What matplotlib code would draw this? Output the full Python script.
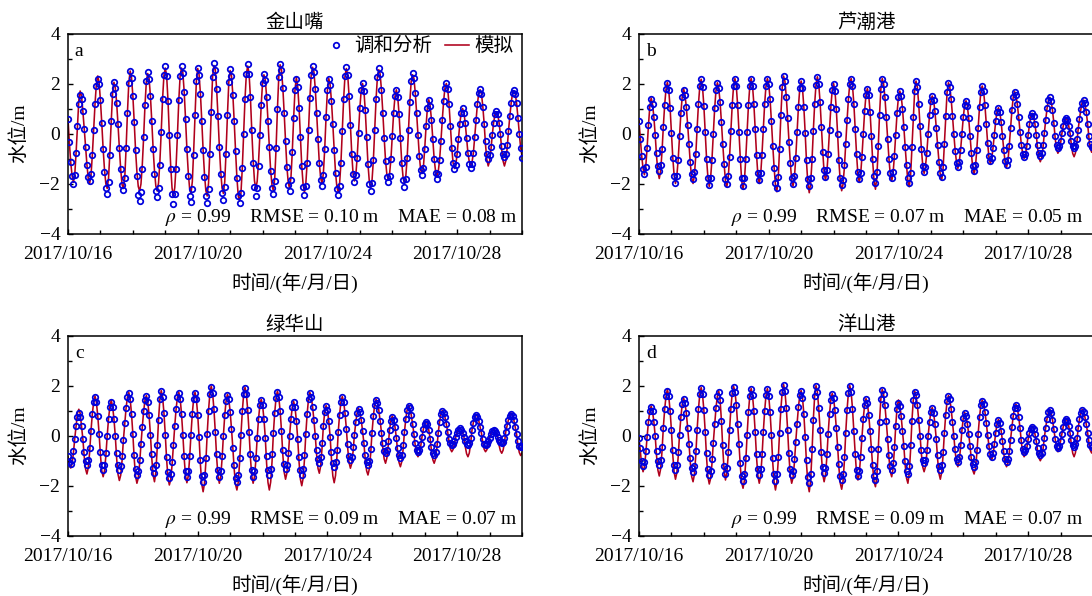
import pandas as pd
import matplotlib
matplotlib.use('Agg')
import matplotlib.pyplot as plt
import matplotlib.dates as mdates
from matplotlib.lines import Line2D

plt.rcParams['font.family'] = ['Liberation Serif', 'Noto Sans CJK SC']
plt.rcParams['mathtext.fontset'] = 'stix'
plt.rcParams['axes.unicode_minus'] = True

# hourly time axis
times = pd.date_range('2017-10-16 00:00', periods=337, freq='h')

# ---------------- 金山嘴 ----------------
a_obs = [0.57,-0.35,-1.15,-1.68,-2.0,-1.65,-0.76,0.31,1.2,1.55,1.38,0.89,0.2,-0.55,-1.24,-1.73,-1.9,-1.61,-0.87,0.15,1.18,1.91,2.2,1.97,
1.33,0.41,-0.61,-1.53,-2.17,-2.4,-1.95,-0.84,0.49,1.6,2.05,1.83,1.23,0.37,-0.57,-1.43,-2.04,-2.25,-1.77,-0.59,0.84,2.03,2.5,2.24,
1.51,0.47,-0.67,-1.71,-2.44,-2.7,-2.34,-1.41,-0.12,1.16,2.09,2.45,2.2,1.5,0.5,-0.6,-1.6,-2.3,-2.55,-2.18,-1.24,0.08,1.39,2.33,
2.7,2.31,1.32,-0.05,-1.43,-2.42,-2.8,-2.41,-1.43,-0.05,1.33,2.32,2.7,2.43,1.66,0.57,-0.62,-1.71,-2.48,-2.75,-2.21,-0.87,0.75,2.09,
2.63,2.36,1.6,0.52,-0.66,-1.74,-2.5,-2.77,-2.21,-0.81,0.87,2.27,2.83,2.56,1.79,0.69,-0.52,-1.62,-2.39,-2.66,-2.14,-0.83,0.74,2.05,
2.57,2.3,1.56,0.49,-0.69,-1.76,-2.5,-2.77,-2.38,-1.38,0.0,1.39,2.38,2.77,2.4,1.45,0.13,-1.18,-2.13,-2.5,-2.16,-1.28,-0.06,1.16,
2.04,2.38,2.14,1.47,0.52,-0.54,-1.49,-2.16,-2.4,-1.88,-0.58,0.98,2.28,2.8,2.54,1.83,0.81,-0.31,-1.33,-2.05,-2.3,-1.85,-0.72,0.63,
1.75,2.2,1.87,1.04,-0.13,-1.29,-2.12,-2.45,-2.09,-1.16,0.13,1.42,2.35,2.71,2.47,1.8,0.83,-0.22,-1.19,-1.86,-2.1,-1.67,-0.61,0.68,
1.74,2.17,1.94,1.29,0.37,-0.65,-1.57,-2.22,-2.45,-2.09,-1.17,0.11,1.39,2.31,2.67,2.35,1.51,0.36,-0.8,-1.63,-1.95,-1.67,-0.96,0.03,
1.02,1.73,2.01,1.71,0.93,-0.15,-1.22,-2.0,-2.3,-1.96,-1.07,0.16,1.38,2.27,2.61,2.38,1.74,0.83,-0.17,-1.08,-1.72,-1.95,-1.69,-1.02,
-0.1,0.83,1.49,1.75,1.48,0.78,-0.19,-1.16,-1.86,-2.13,-1.81,-0.99,0.14,1.28,2.09,2.41,2.21,1.64,0.82,-0.07,-0.89,-1.46,-1.66,-1.36,
-0.61,0.29,1.04,1.34,1.12,0.55,-0.23,-1.02,-1.58,-1.8,-1.61,-1.07,-0.31,0.54,1.3,1.84,2.03,1.79,1.17,0.3,-0.56,-1.18,-1.42,-1.25,
-0.81,-0.2,0.4,0.84,1.01,0.84,0.41,-0.19,-0.79,-1.22,-1.39,-1.23,-0.79,-0.15,0.54,1.18,1.62,1.78,1.59,1.08,0.39,-0.31,-0.81,-1.0,
-0.87,-0.52,-0.05,0.43,0.77,0.9,0.77,0.44,-0.03,-0.49,-0.82,-0.95,-0.82,-0.44,0.1,0.69,1.23,1.61,1.74,1.6,1.21,0.64,0.0,-0.57,
-0.96]
a_sim = [0.57,-0.35,-1.15,-1.68,-1.95,-1.65,-0.76,0.31,1.32,1.7,1.5,0.89,0.2,-0.55,-1.24,-1.81,-2.0,-1.69,-0.87,0.15,1.18,1.99,2.3,2.05,
1.33,0.41,-0.61,-1.44,-2.01,-2.2,-1.79,-0.75,0.49,1.6,2.05,1.83,1.23,0.37,-0.57,-1.43,-2.04,-2.2,-1.77,-0.59,0.84,2.03,2.5,2.24,
1.51,0.47,-0.67,-1.53,-2.12,-2.3,-2.02,-1.23,-0.12,1.16,2.09,2.4,2.2,1.5,0.5,-0.6,-1.49,-2.1,-2.3,-1.98,-1.13,0.08,1.39,2.33,
2.62,2.31,1.32,-0.05,-1.3,-2.18,-2.5,-2.17,-1.3,-0.05,1.33,2.32,2.62,2.43,1.66,0.57,-0.62,-1.55,-2.2,-2.4,-1.93,-0.71,0.75,2.09,
2.6,2.36,1.6,0.52,-0.66,-1.62,-2.28,-2.5,-1.99,-0.69,0.87,2.27,2.72,2.56,1.79,0.69,-0.52,-1.5,-2.18,-2.4,-1.93,-0.71,0.74,2.05,
2.52,2.3,1.56,0.49,-0.69,-1.76,-2.5,-2.7,-2.38,-1.38,0.0,1.39,2.38,2.7,2.4,1.45,0.13,-1.05,-1.89,-2.2,-1.92,-1.15,-0.06,1.16,
2.04,2.35,2.14,1.47,0.52,-0.54,-1.49,-2.08,-2.3,-1.8,-0.58,0.98,2.28,2.75,2.54,1.83,0.81,-0.31,-1.33,-1.97,-2.2,-1.77,-0.72,0.63,
1.75,2.25,1.87,1.04,-0.13,-1.29,-2.04,-2.35,-2.01,-1.16,0.13,1.42,2.35,2.65,2.47,1.8,0.83,-0.22,-1.19,-1.78,-2.0,-1.59,-0.61,0.68,
1.74,2.2,1.94,1.29,0.37,-0.65,-1.57,-2.14,-2.35,-2.01,-1.17,0.11,1.39,2.31,2.6,2.35,1.51,0.36,-0.8,-1.63,-1.9,-1.67,-0.96,0.03,
1.02,1.73,2.0,1.71,0.93,-0.15,-1.22,-1.92,-2.2,-1.88,-1.07,0.16,1.38,2.27,2.55,2.38,1.74,0.83,-0.17,-1.08,-1.64,-1.85,-1.61,-1.02,
-0.1,0.83,1.49,1.75,1.48,0.78,-0.19,-1.16,-1.76,-2.0,-1.71,-0.99,0.14,1.28,2.09,2.35,2.21,1.64,0.82,-0.07,-0.89,-1.46,-1.6,-1.36,
-0.61,0.29,1.04,1.35,1.12,0.55,-0.23,-1.02,-1.5,-1.7,-1.53,-1.07,-0.31,0.54,1.3,1.84,2.0,1.79,1.17,0.3,-0.56,-1.18,-1.4,-1.25,
-0.81,-0.2,0.4,0.84,1.0,0.84,0.41,-0.19,-0.79,-1.14,-1.29,-1.15,-0.79,-0.15,0.54,1.18,1.62,1.75,1.59,1.08,0.39,-0.45,-1.05,-1.3,
-1.11,-0.66,-0.05,0.43,0.77,0.85,0.77,0.44,-0.03,-0.65,-1.1,-1.3,-1.1,-0.6,0.1,0.69,1.23,1.61,1.7,1.6,1.21,0.64,0.0,-0.57,
-0.9]

# ---------------- 芦潮港 ----------------
b_obs = [0.5,-0.2,-0.9,-1.4,-1.62,-1.32,-0.57,0.33,1.08,1.38,1.18,0.66,-0.06,-0.78,-1.3,-1.5,-1.25,-0.62,0.27,1.15,1.78,2.03,1.75,1.03,
0.04,-0.96,-1.68,-1.96,-1.7,-1.04,-0.11,0.82,1.48,1.74,1.56,1.07,0.36,-0.42,-1.13,-1.62,-1.8,-1.52,-0.81,0.19,1.18,1.89,2.17,1.87,
1.11,0.06,-1.0,-1.76,-2.06,-1.77,-1.04,-0.02,1.01,1.74,2.03,1.83,1.26,0.46,-0.43,-1.23,-1.8,-2.0,-1.71,-0.95,0.1,1.15,1.91,2.2,
1.9,1.13,0.06,-1.02,-1.79,-2.09,-1.79,-1.02,0.06,1.13,1.9,2.2,1.92,1.19,0.17,-0.85,-1.58,-1.86,-1.58,-0.85,0.17,1.19,1.92,2.2,
1.98,1.37,0.49,-0.48,-1.36,-1.97,-2.19,-1.74,-0.62,0.73,1.85,2.3,2.09,1.48,0.62,-0.32,-1.18,-1.79,-2.0,-1.71,-0.98,0.05,1.08,1.81,
2.1,1.81,1.05,0.01,-1.04,-1.8,-2.09,-1.78,-1.0,0.09,1.18,1.96,2.27,1.99,1.27,0.27,-0.73,-1.45,-1.73,-1.47,-0.8,0.14,1.07,1.74,
2.0,1.72,0.99,-0.03,-1.05,-1.78,-2.06,-1.85,-1.25,-0.4,0.54,1.39,1.99,2.2,1.92,1.2,0.19,-0.82,-1.54,-1.82,-1.57,-0.92,-0.01,0.9,
1.55,1.8,1.54,0.86,-0.09,-1.03,-1.71,-1.97,-1.55,-0.51,0.74,1.78,2.2,2.0,1.45,0.65,-0.22,-1.02,-1.57,-1.77,-1.53,-0.9,-0.04,0.83,
1.46,1.7,1.52,1.0,0.27,-0.54,-1.27,-1.79,-1.97,-1.56,-0.55,0.68,1.69,2.1,1.85,1.19,0.29,-0.62,-1.28,-1.53,-1.32,-0.77,-0.02,0.74,
1.29,1.5,1.34,0.89,0.24,-0.47,-1.12,-1.57,-1.73,-1.35,-0.41,0.71,1.65,2.03,1.86,1.39,0.72,-0.02,-0.69,-1.16,-1.33,-1.15,-0.67,-0.01,
0.65,1.13,1.31,1.11,0.61,-0.09,-0.79,-1.29,-1.49,-1.25,-0.64,0.21,1.05,1.66,1.9,1.69,1.15,0.4,-0.36,-0.9,-1.11,-0.96,-0.58,-0.04,
0.5,0.88,1.03,0.87,0.46,-0.1,-0.67,-1.08,-1.24,-1.04,-0.51,0.22,0.94,1.47,1.67,1.54,1.17,0.65,0.07,-0.45,-0.82,-0.95,-0.83,-0.51,
-0.07,0.37,0.69,0.81,0.69,0.39,-0.04,-0.47,-0.77,-0.89,-0.77,-0.45,0.02,0.54,1.01,1.33,1.45,1.31,0.94,0.43,-0.08,-0.45,-0.59,-0.51,
-0.29,0.01,0.31,0.53,0.61,0.53,0.31,0.01,-0.29,-0.51,-0.59,-0.49,-0.22,0.16,0.59,0.97,1.24,1.34,1.21,0.87,0.4,-0.08,-0.42,-0.55,
-0.5]
b_sim = [0.5,-0.2,-0.9,-1.4,-1.65,-1.32,-0.57,0.33,1.08,1.42,1.18,0.66,-0.06,-0.92,-1.54,-1.8,-1.49,-0.76,0.27,1.15,1.78,2.05,1.75,1.03,
0.04,-0.96,-1.68,-2.0,-1.7,-1.04,-0.11,0.82,1.48,1.8,1.56,1.07,0.36,-0.42,-1.22,-1.78,-2.0,-1.68,-0.9,0.19,1.18,1.89,2.17,1.87,
1.11,0.06,-1.0,-1.76,-2.12,-1.77,-1.04,-0.02,1.01,1.74,2.03,1.83,1.26,0.46,-0.43,-1.23,-1.9,-2.13,-1.81,-0.95,0.1,1.15,1.91,2.2,
1.9,1.13,0.06,-1.02,-1.89,-2.22,-1.89,-1.02,0.06,1.13,1.9,2.2,1.92,1.19,0.17,-0.85,-1.69,-2.0,-1.69,-0.85,0.17,1.19,1.92,2.2,
1.98,1.37,0.49,-0.48,-1.36,-2.08,-2.33,-1.85,-0.62,0.73,1.85,2.3,2.09,1.48,0.62,-0.32,-1.18,-1.87,-2.1,-1.79,-0.98,0.05,1.08,1.81,
2.1,1.81,1.05,0.01,-1.17,-2.02,-2.37,-2.0,-1.13,0.09,1.18,1.96,2.27,1.99,1.27,0.27,-0.73,-1.55,-1.86,-1.57,-0.8,0.14,1.07,1.74,
2.0,1.72,0.99,-0.03,-1.16,-1.96,-2.29,-2.03,-1.36,-0.4,0.54,1.39,1.99,2.2,1.92,1.2,0.19,-0.82,-1.64,-1.95,-1.67,-0.92,-0.01,0.9,
1.55,1.8,1.54,0.86,-0.09,-1.16,-1.92,-2.23,-1.76,-0.64,0.74,1.78,2.2,2.0,1.45,0.65,-0.22,-1.02,-1.67,-1.9,-1.63,-0.9,-0.04,0.83,
1.46,1.7,1.52,1.0,0.27,-0.54,-1.27,-1.92,-2.13,-1.69,-0.55,0.68,1.69,2.1,1.85,1.19,0.29,-0.62,-1.28,-1.6,-1.32,-0.77,-0.02,0.74,
1.29,1.5,1.34,0.89,0.24,-0.47,-1.12,-1.68,-1.87,-1.46,-0.41,0.71,1.65,2.03,1.86,1.39,0.72,-0.02,-0.69,-1.16,-1.4,-1.15,-0.67,-0.01,
0.65,1.13,1.31,1.11,0.61,-0.09,-0.79,-1.39,-1.62,-1.35,-0.64,0.21,1.05,1.66,1.9,1.69,1.15,0.4,-0.36,-0.97,-1.2,-1.03,-0.58,-0.04,
0.5,0.88,1.03,0.87,0.46,-0.1,-0.67,-1.17,-1.35,-1.13,-0.51,0.22,0.94,1.47,1.67,1.54,1.17,0.65,0.07,-0.45,-0.82,-1.0,-0.83,-0.51,
-0.07,0.37,0.69,0.81,0.69,0.39,-0.04,-0.59,-0.97,-1.13,-0.97,-0.57,0.02,0.54,1.01,1.33,1.45,1.31,0.94,0.43,-0.18,-0.62,-0.79,-0.68,
-0.39,0.01,0.31,0.53,0.61,0.53,0.31,0.01,-0.46,-0.8,-0.93,-0.78,-0.39,0.16,0.59,0.97,1.24,1.34,1.21,0.87,0.4,-0.18,-0.59,-0.75,
-0.67]

# ---------------- 绿华山 ----------------
c_obs = [-0.8,-1.05,-1.12,-0.98,-0.62,-0.12,0.39,0.75,0.89,0.75,0.38,-0.14,-0.66,-1.03,-1.17,-0.98,-0.5,0.18,0.86,1.34,1.53,1.33,0.8,0.08,
-0.65,-1.18,-1.38,-1.19,-0.7,-0.02,0.67,1.16,1.35,1.16,0.67,-0.02,-0.7,-1.19,-1.38,-1.23,-0.8,-0.18,0.49,1.11,1.54,1.69,1.46,0.87,
0.06,-0.76,-1.35,-1.58,-1.42,-0.98,-0.35,0.35,0.98,1.42,1.58,1.36,0.81,0.04,-0.74,-1.29,-1.51,-1.18,-0.36,0.63,1.45,1.78,1.54,0.91,
0.04,-0.84,-1.47,-1.71,-1.54,-1.06,-0.38,0.38,1.06,1.54,1.71,1.48,0.87,0.04,-0.8,-1.41,-1.64,-1.41,-0.8,0.04,0.87,1.48,1.71,1.46,
0.82,-0.07,-0.96,-1.6,-1.85,-1.58,-0.9,0.05,1.0,1.68,1.95,1.7,1.05,0.16,-0.74,-1.39,-1.64,-1.41,-0.83,-0.01,0.81,1.39,1.62,1.45,
0.96,0.27,-0.5,-1.19,-1.68,-1.85,-1.59,-0.91,0.03,0.97,1.65,1.91,1.66,1.02,0.14,-0.75,-1.39,-1.64,-1.43,-0.88,-0.11,0.66,1.21,1.42,
1.21,0.67,-0.08,-0.83,-1.37,-1.58,-1.35,-0.75,0.09,0.92,1.52,1.75,1.53,0.98,0.2,-0.58,-1.13,-1.35,-1.16,-0.68,-0.01,0.66,1.14,1.33,
1.13,0.6,-0.13,-0.85,-1.38,-1.58,-1.35,-0.76,0.06,0.87,1.46,1.69,1.55,1.16,0.61,-0.01,-0.56,-0.95,-1.09,-0.86,-0.3,0.39,0.95,1.18,
1.01,0.57,-0.04,-0.64,-1.08,-1.25,-1.06,-0.56,0.14,0.84,1.34,1.53,1.35,0.9,0.28,-0.35,-0.8,-0.98,-0.84,-0.47,0.04,0.54,0.91,1.05,
0.94,0.63,0.18,-0.31,-0.76,-1.07,-1.18,-1.0,-0.53,0.12,0.77,1.24,1.42,1.31,1.02,0.59,0.12,-0.31,-0.6,-0.71,-0.56,-0.2,0.24,0.6,
0.75,0.63,0.34,-0.08,-0.5,-0.79,-0.91,-0.76,-0.39,0.14,0.66,1.03,1.18,1.09,0.83,0.47,0.06,-0.3,-0.56,-0.65,-0.57,-0.35,-0.05,0.25,
0.47,0.55,0.46,0.22,-0.12,-0.45,-0.69,-0.78,-0.66,-0.34,0.11,0.55,0.87,0.99,0.92,0.73,0.46,0.15,-0.12,-0.31,-0.38,-0.33,-0.21,-0.05,
0.12,0.24,0.29,0.24,0.12,-0.05,-0.21,-0.33,-0.38,-0.3,-0.08,0.22,0.52,0.74,0.82,0.76,0.59,0.35,0.09,-0.15,-0.32,-0.38,-0.34,-0.23,
-0.08,0.07,0.18,0.22,0.18,0.09,-0.05,-0.18,-0.27,-0.31,-0.25,-0.09,0.15,0.4,0.64,0.8,0.86,0.79,0.61,0.34,0.05,-0.22,-0.4,-0.47,
-0.42]
c_sim = [-0.85,-1.2,-1.3,-1.13,-0.71,-0.12,0.39,0.89,1.05,0.89,0.38,-0.14,-0.84,-1.34,-1.54,-1.29,-0.68,0.18,0.86,1.34,1.58,1.33,0.8,0.08,
-0.78,-1.41,-1.65,-1.42,-0.83,-0.02,0.67,1.16,1.42,1.16,0.67,-0.02,-0.91,-1.55,-1.8,-1.59,-1.01,-0.18,0.49,1.11,1.54,1.72,1.46,0.87,
0.06,-0.92,-1.63,-1.91,-1.7,-1.14,-0.35,0.35,0.98,1.42,1.6,1.36,0.81,0.04,-0.91,-1.58,-1.85,-1.47,-0.53,0.63,1.45,1.8,1.54,0.91,
0.04,-0.97,-1.7,-1.98,-1.77,-1.19,-0.38,0.38,1.06,1.54,1.73,1.48,0.87,0.04,-0.92,-1.62,-1.89,-1.62,-0.92,0.04,0.87,1.48,1.73,1.46,
0.82,-0.07,-1.16,-1.94,-2.25,-1.92,-1.1,0.05,1.0,1.68,1.98,1.7,1.05,0.16,-0.87,-1.62,-1.91,-1.64,-0.96,-0.01,0.81,1.39,1.65,1.45,
0.96,0.27,-0.5,-1.35,-1.96,-2.18,-1.87,-1.07,0.03,0.97,1.65,1.93,1.66,1.02,0.14,-0.88,-1.62,-1.91,-1.66,-1.01,-0.11,0.66,1.21,1.45,
1.21,0.67,-0.08,-1.13,-1.88,-2.18,-1.86,-1.05,0.09,0.92,1.52,1.78,1.53,0.98,0.2,-0.78,-1.47,-1.75,-1.5,-0.88,-0.01,0.66,1.14,1.36,
1.13,0.6,-0.13,-1.06,-1.75,-2.01,-1.72,-0.97,0.06,0.87,1.46,1.72,1.55,1.16,0.61,-0.01,-0.77,-1.31,-1.51,-1.22,-0.51,0.39,0.95,1.2,
1.01,0.57,-0.04,-0.96,-1.62,-1.89,-1.6,-0.88,0.14,0.84,1.34,1.56,1.35,0.9,0.28,-0.51,-1.08,-1.31,-1.12,-0.63,0.04,0.54,0.91,1.08,
0.94,0.63,0.18,-0.31,-0.96,-1.41,-1.58,-1.34,-0.73,0.12,0.77,1.24,1.45,1.31,1.02,0.59,0.12,-0.51,-0.94,-1.11,-0.9,-0.4,0.24,0.6,
0.78,0.63,0.34,-0.08,-0.67,-1.08,-1.25,-1.05,-0.56,0.14,0.66,1.03,1.2,1.09,0.83,0.47,0.06,-0.4,-0.73,-0.85,-0.74,-0.45,-0.05,0.25,
0.47,0.57,0.46,0.22,-0.12,-0.61,-0.97,-1.11,-0.94,-0.5,0.11,0.55,0.87,1.0,0.92,0.73,0.46,0.15,-0.25,-0.54,-0.65,-0.56,-0.34,-0.05,
0.12,0.24,0.3,0.24,0.12,-0.05,-0.44,-0.73,-0.85,-0.7,-0.31,0.22,0.52,0.74,0.85,0.76,0.59,0.35,0.09,-0.28,-0.55,-0.65,-0.57,-0.36,
-0.08,0.07,0.18,0.22,0.18,0.09,-0.05,-0.38,-0.61,-0.71,-0.59,-0.29,0.15,0.4,0.64,0.8,0.9,0.79,0.61,0.34,0.05,-0.38,-0.68,-0.8,
-0.7]

# ---------------- 洋山港 ----------------
d_obs = [-0.1,-0.5,-1.0,-1.2,-1.04,-0.62,-0.04,0.55,0.97,1.13,0.97,0.55,-0.03,-0.6,-1.02,-1.18,-0.97,-0.44,0.31,1.05,1.58,1.79,1.57,1.0,
0.21,-0.59,-1.16,-1.38,-1.18,-0.67,0.04,0.74,1.25,1.45,1.31,0.9,0.32,-0.32,-0.9,-1.31,-1.45,-1.22,-0.62,0.22,1.06,1.66,1.89,1.65,
1.02,0.16,-0.71,-1.34,-1.58,-1.41,-0.95,-0.28,0.45,1.12,1.58,1.75,1.42,0.6,-0.39,-1.21,-1.54,-1.3,-0.67,0.21,1.08,1.71,1.95,1.76,
1.24,0.48,-0.34,-1.1,-1.62,-1.81,-1.55,-0.9,0.02,0.94,1.59,1.85,1.61,0.99,0.14,-0.72,-1.34,-1.58,-1.34,-0.72,0.14,0.99,1.61,1.85,
1.59,0.94,0.02,-0.9,-1.55,-1.81,-1.54,-0.85,0.11,1.06,1.75,2.02,1.77,1.12,0.22,-0.68,-1.33,-1.58,-1.41,-0.94,-0.27,0.47,1.14,1.61,
1.78,1.52,0.86,-0.07,-0.99,-1.65,-1.91,-1.52,-0.55,0.62,1.59,1.98,1.74,1.11,0.24,-0.64,-1.27,-1.51,-1.29,-0.72,0.08,0.87,1.44,1.66,
1.49,1.01,0.32,-0.44,-1.13,-1.61,-1.78,-1.52,-0.84,0.1,1.04,1.72,1.98,1.73,1.08,0.18,-0.72,-1.37,-1.62,-1.41,-0.85,-0.09,0.68,1.24,
1.45,1.29,0.84,0.19,-0.52,-1.17,-1.62,-1.78,-1.42,-0.52,0.56,1.46,1.82,1.66,1.21,0.57,-0.13,-0.77,-1.22,-1.38,-1.11,-0.44,0.38,1.05,
1.32,1.18,0.78,0.2,-0.42,-1.0,-1.4,-1.54,-1.21,-0.39,0.6,1.42,1.75,1.61,1.21,0.63,0.0,-0.57,-0.97,-1.11,-0.96,-0.56,-0.01,0.54,
0.94,1.09,0.92,0.47,-0.15,-0.76,-1.21,-1.38,-1.17,-0.64,0.1,0.84,1.37,1.58,1.45,1.08,0.55,-0.02,-0.55,-0.92,-1.05,-0.86,-0.37,0.21,
0.7,0.89,0.78,0.48,0.06,-0.42,-0.84,-1.14,-1.25,-1.07,-0.59,0.07,0.73,1.21,1.39,1.28,0.96,0.52,0.02,-0.42,-0.74,-0.85,-0.7,-0.34,
0.11,0.47,0.62,0.5,0.2,-0.22,-0.63,-0.93,-1.05,-0.94,-0.62,-0.16,0.34,0.79,1.11,1.22,1.09,0.75,0.29,-0.18,-0.52,-0.65,-0.58,-0.4,
-0.15,0.1,0.28,0.35,0.27,0.07,-0.22,-0.5,-0.7,-0.78,-0.69,-0.44,-0.08,0.32,0.68,0.93,1.02,0.91,0.64,0.26,-0.13,-0.4,-0.51,-0.43,
-0.22,0.07,0.36,0.57,0.65,0.57,0.38,0.1,-0.18,-0.37,-0.45,-0.35,-0.08,0.29,0.65,0.92,1.02,0.95,0.74,0.45,0.12,-0.17,-0.38,-0.45,
-0.4]
d_sim = [-0.1,-0.62,-1.21,-1.45,-1.25,-0.74,-0.04,0.55,0.97,1.18,0.97,0.55,-0.03,-0.82,-1.39,-1.62,-1.34,-0.66,0.31,1.05,1.58,1.85,1.57,1.0,
0.21,-0.78,-1.47,-1.75,-1.49,-0.86,0.04,0.74,1.25,1.5,1.31,0.9,0.32,-0.32,-1.1,-1.65,-1.85,-1.56,-0.82,0.22,1.06,1.66,1.92,1.65,
1.02,0.16,-0.89,-1.65,-1.94,-1.72,-1.13,-0.28,0.45,1.12,1.58,1.78,1.42,0.6,-0.51,-1.41,-1.78,-1.5,-0.79,0.21,1.08,1.71,1.97,1.76,
1.24,0.48,-0.34,-1.25,-1.88,-2.11,-1.81,-1.05,0.02,0.94,1.59,1.88,1.61,0.99,0.14,-0.88,-1.62,-1.91,-1.62,-0.88,0.14,0.99,1.61,1.88,
1.59,0.94,0.02,-1.09,-1.86,-2.18,-1.85,-1.04,0.11,1.06,1.75,2.04,1.77,1.12,0.22,-0.84,-1.61,-1.91,-1.69,-1.1,-0.27,0.47,1.14,1.61,
1.8,1.52,0.86,-0.07,-1.16,-1.94,-2.25,-1.81,-0.72,0.62,1.59,2.0,1.74,1.11,0.24,-0.81,-1.56,-1.85,-1.58,-0.89,0.08,0.87,1.44,1.68,
1.49,1.01,0.32,-0.44,-1.32,-1.92,-2.15,-1.83,-1.03,0.1,1.04,1.72,2.0,1.73,1.08,0.18,-0.72,-1.51,-1.78,-1.55,-0.85,-0.09,0.68,1.24,
1.48,1.29,0.84,0.19,-0.52,-1.3,-1.85,-2.05,-1.65,-0.65,0.56,1.46,1.85,1.66,1.21,0.57,-0.13,-0.9,-1.45,-1.65,-1.34,-0.57,0.38,1.13,
1.42,1.26,0.78,0.2,-0.42,-1.19,-1.71,-1.91,-1.52,-0.58,0.6,1.42,1.78,1.61,1.21,0.63,0.0,-0.74,-1.26,-1.45,-1.25,-0.73,-0.01,0.54,
0.94,1.12,0.92,0.47,-0.15,-0.95,-1.52,-1.75,-1.48,-0.83,0.1,0.84,1.37,1.6,1.45,1.08,0.55,-0.02,-0.65,-1.09,-1.25,-1.03,-0.47,0.21,
0.7,0.92,0.78,0.48,0.06,-0.42,-0.99,-1.39,-1.54,-1.32,-0.74,0.07,0.73,1.21,1.42,1.28,0.96,0.52,0.02,-0.42,-0.85,-0.98,-0.81,-0.34,
0.11,0.47,0.65,0.5,0.2,-0.22,-0.73,-1.1,-1.25,-1.11,-0.72,-0.16,0.34,0.79,1.11,1.25,1.09,0.75,0.29,-0.28,-0.69,-0.85,-0.75,-0.5,
-0.15,0.1,0.28,0.38,0.27,0.07,-0.22,-0.62,-0.9,-1.01,-0.89,-0.56,-0.08,0.32,0.68,0.93,1.05,0.91,0.64,0.26,-0.13,-0.52,-0.65,-0.55,
-0.22,0.07,0.36,0.57,0.7,0.57,0.38,0.1,-0.38,-0.71,-0.85,-0.69,-0.28,0.29,0.65,0.92,1.05,0.95,0.74,0.45,0.12,-0.3,-0.59,-0.7,
-0.61]

stations = ['金山嘴', '芦潮港', '绿华山', '洋山港']
letters = ['a', 'b', 'c', 'd']
rho_vals = ['0.99', '0.99', '0.99', '0.99']
rmse_vals = ['0.10', '0.07', '0.09', '0.09']
mae_vals = ['0.08', '0.05', '0.07', '0.07']
obs_all = [a_obs, b_obs, c_obs, d_obs]
sim_all = [a_sim, b_sim, c_sim, d_sim]

W, H = 1092, 596
fig = plt.figure(figsize=(W / 100, H / 100), dpi=100)
# (left px, top px) of each axes box
boxes = [(68, 33.5), (639, 33.5), (68, 335.5), (639, 335.5)]
aw, ah = 454, 200
obs_color = '#0000dd'
sim_color = '#b0001c'
fs = 14

for i in range(4):
    x0, yt = boxes[i]
    ax = fig.add_axes([x0 / W, 1 - (yt + ah) / H, aw / W, ah / H])
    obs = obs_all[i]
    sim = sim_all[i]
    ax.plot(times[:len(sim)], sim, color=sim_color, lw=1.15, zorder=2)
    ax.plot(times[:len(obs)], obs, ls='none', marker='o', ms=4.0, mfc='none',
            mec=obs_color, mew=1.25, zorder=3)
    ax.set_xlim(times[0], times[-1])
    ax.set_ylim(-4, 4)
    ax.set_yticks([-4, -2, 0, 2, 4])
    ax.set_yticks([-3, -1, 1, 3], minor=True)
    ax.xaxis.set_major_locator(mdates.DayLocator(bymonthday=[16, 20, 24, 28]))
    ax.xaxis.set_minor_locator(mdates.DayLocator())
    ax.xaxis.set_major_formatter(mdates.DateFormatter('%Y/%m/%d'))
    ax.tick_params(which='both', direction='in', top=False, right=False,
                   labelsize=fs, width=1.0)
    ax.tick_params(which='major', length=3.5)
    ax.tick_params(which='minor', length=3.0)
    ax.tick_params(axis='x', which='major', pad=9)
    ax.tick_params(axis='y', which='major', pad=5.5)
    for sp in ax.spines.values():
        sp.set_linewidth(1.1)
    ax.set_title(stations[i], fontsize=fs, pad=4)
    ax.set_xlabel('时间/(年/月/日)', fontsize=fs)
    ax.xaxis.set_label_coords(0.5, -0.195)
    ax.set_ylabel('水位/m', fontsize=fs)
    ax.yaxis.set_label_coords(-0.088, 0.5)
    ax.text(0.015, 0.885, letters[i], transform=ax.transAxes, fontsize=fs,
            ha='left', va='baseline')
    xr = 0.989 if i % 2 == 0 else 0.978
    ax.text(xr, 0.06,
            r'$\rho$ = ' + rho_vals[i] + '    RMSE = ' + rmse_vals[i] +
            ' m    MAE = ' + mae_vals[i] + ' m',
            transform=ax.transAxes, fontsize=fs, ha='right', va='baseline')
    if i == 0:
        h1 = Line2D([], [], ls='none', marker='o', ms=4.0, mfc='none',
                    mec=obs_color, mew=1.25)
        h2 = Line2D([], [], color=sim_color, lw=1.15)
        ax.legend([h1, h2], ['调和分析', '模拟'], loc='upper right',
                  bbox_to_anchor=(0.99, 1.0), ncol=2, frameon=False,
                  fontsize=fs, handlelength=1.2, handletextpad=0.3,
                  columnspacing=0.7, borderaxespad=0.0, borderpad=0.2,
                  numpoints=1)

fig.savefig('out.png', dpi=100)
